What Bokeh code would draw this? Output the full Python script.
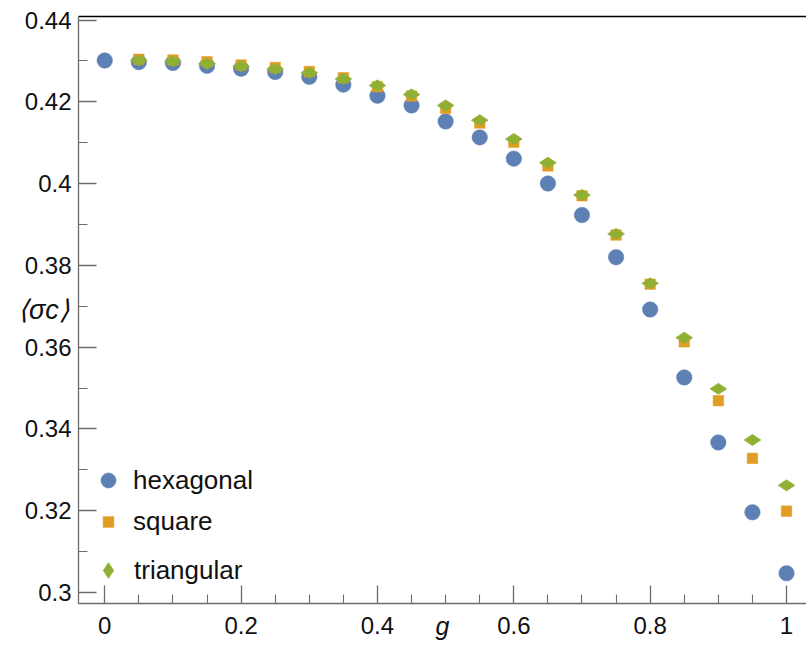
import math
from bokeh.plotting import figure
from bokeh.models import (FixedTicker, NumeralTickFormatter, LinearAxis, Legend,
                          LegendItem, Range1d)
from bokeh.embed import file_html
from bokeh.resources import INLINE

# ---- data ----
g_hex = [0.0, 0.05, 0.1, 0.15, 0.2, 0.25, 0.3, 0.35, 0.4, 0.45, 0.5,
         0.55, 0.6, 0.65, 0.7, 0.75, 0.8, 0.85, 0.9, 0.95, 1.0]
hexagonal = [0.4301, 0.4297, 0.4295, 0.4288, 0.4281, 0.4273, 0.4261, 0.4242, 0.4215, 0.4191, 0.4152,
             0.4113, 0.4061, 0.4000, 0.3923, 0.3820, 0.3692, 0.3526, 0.3367, 0.3196, 0.3047]
g_sq = [0.05, 0.1, 0.15, 0.2, 0.25, 0.3, 0.35, 0.4, 0.45, 0.5,
        0.55, 0.6, 0.65, 0.7, 0.75, 0.8, 0.85, 0.9, 0.95, 1.0]
square = [0.4304, 0.4302, 0.4298, 0.4290, 0.4284, 0.4274, 0.4259, 0.4237, 0.4214, 0.4184,
          0.4148, 0.4101, 0.4043, 0.3970, 0.3874, 0.3754, 0.3613, 0.3469, 0.3328, 0.3199]
g_tri = g_sq
triangular = [0.4301, 0.4299, 0.4293, 0.4287, 0.4280, 0.4271, 0.4256, 0.4240, 0.4218, 0.4191,
              0.4155, 0.4109, 0.4051, 0.3972, 0.3877, 0.3756, 0.3623, 0.3498, 0.3373, 0.3262]

x_major = [0, 0.2, 0.4, 0.6, 0.8, 1.0]
x_minor = [0.05, 0.1, 0.15, 0.25, 0.3, 0.35, 0.45, 0.5, 0.55, 0.65, 0.7, 0.75, 0.85, 0.9, 0.95]
y_major = [0.30, 0.32, 0.34, 0.36, 0.38, 0.40, 0.42, 0.44]
y_minor = [0.31, 0.33, 0.35, 0.37, 0.39, 0.41, 0.43]
x_label = "g"
y_label = "⟨σc⟩"

C_HEX = "#5E81B5"
C_SQ = "#E19C24"
C_TRI = "#8FB032"
AX = "#6b6b6b"
FONT = "Liberation Sans"
FS = "24px"
LFS = "26px"

p = figure(width=806, height=648, output_backend="svg", toolbar_location=None,
           x_range=Range1d(-0.0385, 1.0293), y_range=Range1d(0.29731, 0.44086),
           min_border_left=78, min_border_right=0, min_border_top=16, min_border_bottom=45)
p.xgrid.grid_line_color = None
p.ygrid.grid_line_color = None
p.outline_line_color = None
p.background_fill_color = "white"
p.border_fill_color = "white"

for ax, maj, mnr, fmt, standoff in ((p.xaxis[0], x_major, x_minor, "0.[0]", 13),
                                    (p.yaxis[0], y_major, y_minor, "0.[00]", 7)):
    ax.ticker = FixedTicker(ticks=maj, minor_ticks=mnr)
    ax.formatter = NumeralTickFormatter(format=fmt)
    ax.axis_line_color = AX
    ax.axis_line_width = 1.3
    ax.major_tick_line_color = AX
    ax.minor_tick_line_color = AX
    ax.major_tick_line_width = 1.3
    ax.minor_tick_line_width = 1.1
    ax.major_tick_in = 18
    ax.major_tick_out = 0
    ax.minor_tick_in = 9
    ax.minor_tick_out = 0
    ax.major_label_text_font = FONT
    ax.major_label_text_font_size = FS
    ax.major_label_text_color = "#111111"
    ax.major_label_standoff = standoff
    ax.axis_label_text_font = FONT
    ax.axis_label_text_font_style = "italic"
    ax.axis_label_text_color = "#111111"

xa = p.xaxis[0]
xa.axis_label = x_label
xa.axis_label_text_font_size = "25px"
xa.axis_label_standoff = -25

ya = p.yaxis[0]
ya.axis_label = y_label
ya.axis_label_text_font_size = "27px"
if "axis_label_orientation" in ya.properties():
    ya.axis_label_orientation = "horizontal"
ya.axis_label_standoff = -48

top = LinearAxis(ticker=FixedTicker(ticks=[]), axis_line_color="black", axis_line_width=1.5,
                 major_tick_line_color=None, minor_tick_line_color=None,
                 major_label_text_font_size="0px", major_label_standoff=0)
p.add_layout(top, "above")

r_hex = p.scatter(g_hex, hexagonal, marker="circle", size=15.5, fill_color=C_HEX, line_color=C_HEX, line_width=0.5)
r_sq = p.scatter(g_sq, square, marker="square", size=10.5, fill_color=C_SQ, line_color=C_SQ, line_width=0.5)
r_tri = p.scatter(g_tri, triangular, marker="diamond", angle=math.pi / 2, size=17,
                  fill_color=C_TRI, line_color=C_TRI, line_width=0.5)

def add_legend(label, rend, gw, gh, standoff, loc):
    lg = Legend(items=[LegendItem(label=label, renderers=[rend])], location=loc,
                glyph_width=gw, glyph_height=gh, label_standoff=standoff, label_height=gh,
                padding=0, margin=0, spacing=0, border_line_color=None,
                background_fill_alpha=0, label_text_font=FONT, label_text_font_size=LFS,
                label_text_color="#111111")
    p.add_layout(lg)

add_legend("hexagonal", r_hex, 38, 38, 6, (11, 104))
add_legend("square", r_sq, 38, 27, 6, (11, 66))
add_legend("triangular", r_tri, 40, 40, 6, (10, 13))

open("out.html", "w").write(file_html(p, INLINE))
